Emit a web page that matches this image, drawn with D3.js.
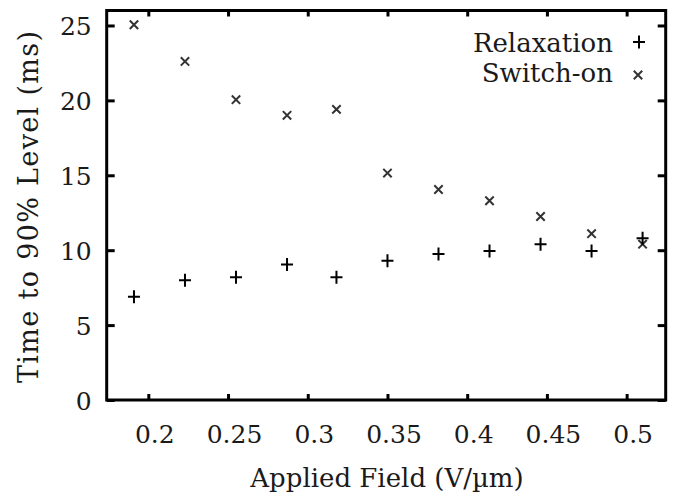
<!DOCTYPE html>
<html lang="en">
  <head>
    <meta charset="utf-8">
    <title>switch_times</title>
    <script src="https://d3js.org/d3.v7.min.js"></script>
    <style>
      body { margin: 0; background: white; }
      text { font-family: "DejaVu Serif", serif; fill: #1a1a1a; }
    </style>
  </head>

  <body>

  <script>

  // data
  var field = [0.191, 0.223, 0.255, 0.287, 0.318, 0.350, 0.382, 0.414, 0.446, 0.478, 0.510];
  var relaxation = [6.9, 8.0, 8.2, 9.05, 8.2, 9.3, 9.75, 9.95, 10.4, 9.95, 10.8];
  var switchOn = [25.05, 22.6, 20.05, 19.0, 19.4, 15.15, 14.05, 13.3, 12.25, 11.1, 10.4];
  var xTicks = [0.2, 0.25, 0.3, 0.35, 0.4, 0.45, 0.5];
  var yTicks = [0, 5, 10, 15, 20, 25];
  var seriesNames = ["Relaxation", "Switch-on"];

  var w = 678;
  var h = 499;
  var margin = {top: 10.5, right: 12.3, bottom: 99, left: 106.7};
  var innerWidth = w - margin.left - margin.right;
  var innerHeight = h - margin.top - margin.bottom;

  var svg = d3.select("body")
    .append("svg")
      .attr("width", w)
      .attr("height", h);

  var g = svg.append("g")
      .attr("transform", `translate(${margin.left}, ${margin.top})`);

  var xScale = d3.scaleLinear()
      .domain([0.1739, 0.5245])
      .range([0, innerWidth]);

  var yScale = d3.scaleLinear()
      .domain([0, 26])
      .range([innerHeight, 0]);

  // axes: ticks point inward, mirrored on top and right
  function styleAxis(sel) {
    sel.attr("font-family", null).attr("font-size", null);
    sel.select(".domain").remove();
    sel.selectAll(".tick line")
        .attr("stroke", "#000")
        .attr("stroke-width", 3);
  }

  var xAxis = g.append("g")
      .attr("transform", `translate(0, ${innerHeight})`)
      .call(d3.axisBottom(xScale).tickValues(xTicks).tickSize(-6).tickPadding(0)
        .tickFormat(d3.format("")));
  styleAxis(xAxis);
  xAxis.selectAll("text")
      .attr("font-size", 25)
      .attr("dy", null)
      .attr("dx", 6)
      .attr("y", 43);

  var xTop = g.append("g")
      .call(d3.axisTop(xScale).tickValues(xTicks).tickSize(-6).tickFormat(""));
  styleAxis(xTop);

  var yAxis = g.append("g")
      .call(d3.axisLeft(yScale).tickValues(yTicks).tickSize(-8).tickPadding(0));
  styleAxis(yAxis);
  yAxis.selectAll("text")
      .attr("font-size", 25)
      .attr("x", -15)
      .attr("dy", 9);

  var yRight = g.append("g")
      .attr("transform", `translate(${innerWidth}, 0)`)
      .call(d3.axisRight(yScale).tickValues(yTicks).tickSize(-8).tickFormat(""));
  styleAxis(yRight);

  // frame
  g.append("rect")
      .attr("x", 0)
      .attr("y", 0)
      .attr("width", innerWidth)
      .attr("height", innerHeight)
      .attr("fill", "none")
      .attr("stroke", "#000")
      .attr("stroke-width", 3);

  var plusPath = "M-6,0H6M0,-6.5V6.5";
  var crossPath = "M-4.2,-4.2L4.2,4.2M-4.2,4.2L4.2,-4.2";

  var pts = g.append("g").attr("id", "plot");

  pts.selectAll(".switch")
      .data(field)
    .enter().append("path")
      .attr("class", "switch")
      .attr("d", crossPath)
      .attr("transform", (d, i) => `translate(${xScale(d)}, ${yScale(switchOn[i])})`)
      .attr("stroke", "#333")
      .attr("stroke-width", 2)
      .attr("fill", "none");

  pts.selectAll(".relax")
      .data(field)
    .enter().append("path")
      .attr("class", "relax")
      .attr("d", plusPath)
      .attr("transform", (d, i) => `translate(${xScale(d)}, ${yScale(relaxation[i])})`)
      .attr("stroke", "#000")
      .attr("stroke-width", 2)
      .attr("fill", "none");

  // legend
  var legend = svg.append("g");
  legend.append("text")
      .attr("x", 613)
      .attr("y", 51.5)
      .attr("text-anchor", "end")
      .attr("font-size", 26)
      .text(seriesNames[0]);
  legend.append("path")
      .attr("d", plusPath)
      .attr("transform", "translate(639, 42)")
      .attr("stroke", "#000")
      .attr("stroke-width", 2)
      .attr("fill", "none");
  legend.append("text")
      .attr("x", 613)
      .attr("y", 82)
      .attr("text-anchor", "end")
      .attr("font-size", 26)
      .text(seriesNames[1]);
  legend.append("path")
      .attr("d", crossPath)
      .attr("transform", "translate(638, 75)")
      .attr("stroke", "#333")
      .attr("stroke-width", 2)
      .attr("fill", "none");

  // axis titles
  svg.append("text")
      .attr("x", 387)
      .attr("y", 487)
      .attr("text-anchor", "middle")
      .attr("font-size", 26)
      .text("Applied Field (V/\u00b5m)");

  svg.append("text")
      .attr("transform", "translate(38, 207) rotate(-90)")
      .attr("text-anchor", "middle")
      .attr("font-size", 27)
      .attr("textLength", 352)
      .attr("lengthAdjust", "spacing")
      .text("Time to 90% Level (ms)");

  </script>

  </body>

</html>
